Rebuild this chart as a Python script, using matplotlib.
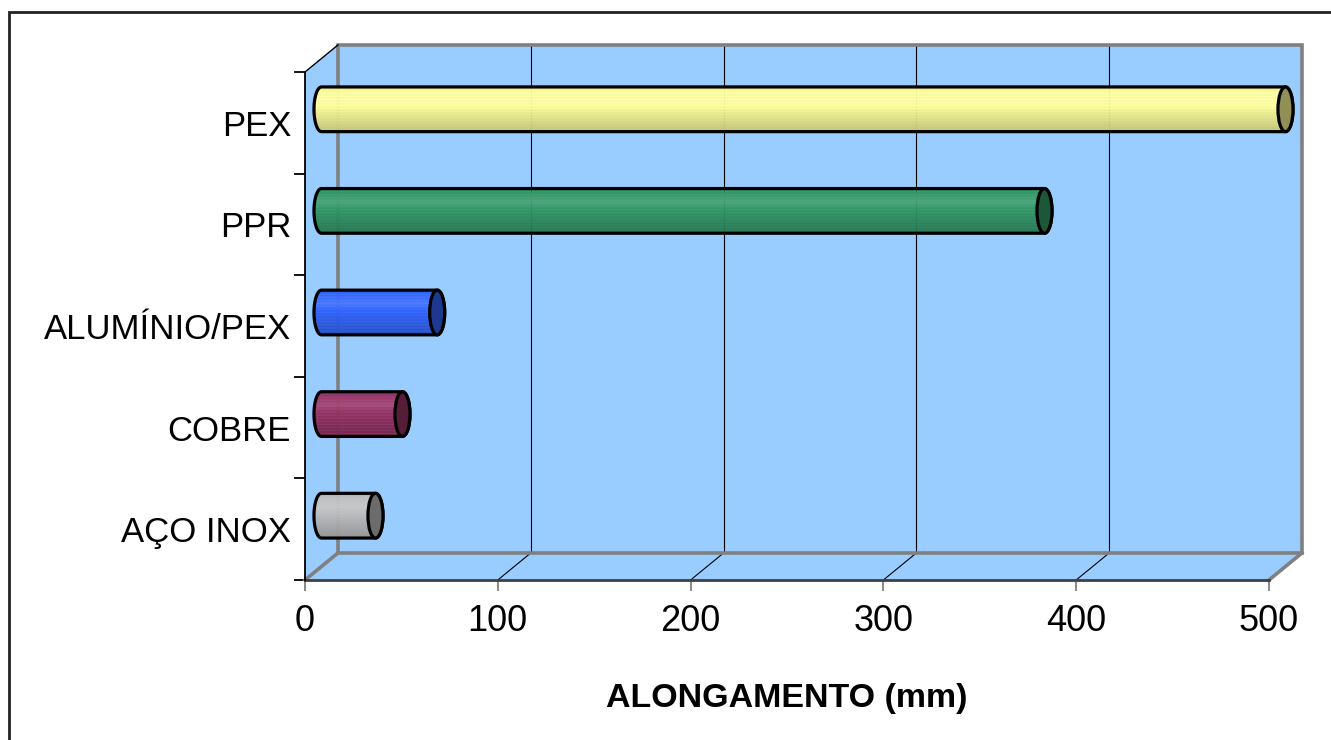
import matplotlib
matplotlib.use("Agg")
import matplotlib.pyplot as plt
import matplotlib.colors as mcolors
import numpy as np
from matplotlib.patches import Rectangle, Polygon, Ellipse

categorias = ["AÇO INOX", "COBRE", "ALUMÍNIO/PEX", "PPR", "PEX"]
alongamento = [28, 42, 60, 375, 500]
cores = ["#C0C0C0", "#993366", "#3366FF", "#339966", "#FFFF99"]
xticks = [0, 100, 200, 300, 400, 500]

plt.rcParams["font.family"] = ["Liberation Sans", "DejaVu Sans"]

AZUL = "#99CCFF"
CINZA = "#808080"
DX, DY = 17.1, 0.266      # profundidade do "3D" em unidades de dados
RX, RY = 3.9, 0.22        # raios da elipse do cilindro


def tom(rgb, k):
    if k > 1:
        c = rgb + (1 - rgb) * (k - 1) * 2
    else:
        c = rgb * k
    return np.clip(c, 0, 1)


def cilindro(ax, y, v, cor, nfaixas=30):
    rgb = np.array(mcolors.to_rgb(cor))
    yc = y + DY / 2
    x0, x1 = DX / 2, v + DX / 2

    # corpo em faixas horizontais (topo claro, base escura)
    ys = np.linspace(yc + RY, yc - RY, nfaixas + 1)
    t = np.linspace(0, 1, nfaixas)
    fator = np.interp(t, [0, 0.08, 0.3, 0.55, 1], [0.9, 1.0, 1.06, 0.95, 0.78])
    for ya, yb, k in zip(ys[:-1], ys[1:], fator):
        yy = np.linspace(ya, yb, 6)
        w = RX * np.sqrt(np.clip(1 - ((yy - yc) / RY) ** 2, 0, 1))
        pts = np.vstack([np.column_stack([x0 - w, yy]),
                         np.column_stack([x1 + w, yy])[::-1]])
        ax.add_patch(Polygon(pts, closed=True, fc=tom(rgb, k), ec=tom(rgb, k),
                             lw=0.3, clip_on=False, zorder=4))

    t1 = np.linspace(np.pi / 2, 3 * np.pi / 2, 40)
    t2 = np.linspace(-np.pi / 2, np.pi / 2, 40)
    esq = np.column_stack([x0 + RX * np.cos(t1), yc + RY * np.sin(t1)])
    dir_ = np.column_stack([x1 + RX * np.cos(t2), yc + RY * np.sin(t2)])
    ax.add_patch(Polygon(np.vstack([esq, dir_]), closed=True, fc="none",
                         ec="black", lw=2.3, clip_on=False, zorder=5))
    ax.add_patch(Ellipse((x1, yc), 2 * RX, 2 * RY, fc=rgb * 0.56, ec="black",
                         lw=2.3, clip_on=False, zorder=6))


fig = plt.figure(figsize=(13.31, 7.40), dpi=100)
ax = fig.add_axes([305 / 1331, 160 / 740, 964 / 1331, 508 / 740])
ax.patch.set_visible(False)

n = len(categorias)
xmax = xticks[-1]

# paredes: fundo, chão e lateral
ax.add_patch(Rectangle((DX, DY), xmax, n, fc=AZUL, ec="none", clip_on=False, zorder=0.5))
ax.add_patch(Polygon([(0, 0), (xmax, 0), (xmax + DX, DY), (DX, DY)], fc=AZUL,
                     ec="none", clip_on=False, zorder=0.5))
ax.add_patch(Polygon([(0, 0), (DX, DY), (DX, n + DY), (0, n)], fc=AZUL,
                     ec="none", clip_on=False, zorder=0.5))

# grade
for v in xticks[1:-1]:
    ax.plot([v + DX, v + DX], [DY, n + DY], color="black", lw=0.8, clip_on=False, zorder=1)
    ax.plot([v, v + DX], [0, DY], color="black", lw=0.8, clip_on=False, zorder=1)

ax.add_patch(Rectangle((DX, DY), xmax, n, fc="none", ec=CINZA, lw=2.6,
                       clip_on=False, zorder=2))
ax.plot([0, DX], [0, DY], color=CINZA, lw=2.6, clip_on=False, zorder=2)
ax.plot([xmax, xmax + DX], [0, DY], color=CINZA, lw=2.6, clip_on=False, zorder=2)
ax.plot([0, DX], [n, n + DY], color="black", lw=1.0, clip_on=False, zorder=2)
ax.plot([0, xmax], [0, 0], color="#404040", lw=2.0, clip_on=False, zorder=2)

for i, (v, c) in enumerate(zip(alongamento, cores)):
    cilindro(ax, i + 0.5, v, c)

ax.set_xlim(0, xmax)
ax.set_ylim(0, n)

for s in ["top", "right", "bottom"]:
    ax.spines[s].set_visible(False)
ax.spines["left"].set_color("black")
ax.spines["left"].set_linewidth(1.3)
ax.spines["left"].set_zorder(3)

ax.set_xticks(xticks)
ax.set_xticklabels([str(v) for v in xticks], fontsize=26)
ax.tick_params(axis="x", direction="out", length=8, width=1.3, color=CINZA, pad=9)
ax.set_yticks(range(n + 1))
ax.set_yticklabels([])
ax.tick_params(axis="y", which="major", direction="out", length=8, width=1.3, color="black")
ax.set_yticks([i + 0.5 for i in range(n)], minor=True)
ax.set_yticklabels(categorias, minor=True, fontsize=25)
ax.tick_params(axis="y", which="minor", length=0, pad=10)

fig.text(787 / 1331, 1 - 699 / 740, "ALONGAMENTO (mm)", fontsize=24.5,
         fontweight="bold", ha="center", va="center")

# moldura do gráfico
fig.patches.append(Rectangle((9 / 1331, -0.05), 1.1, 1 - 12 / 740 + 0.05,
                             transform=fig.transFigure, fc="none", ec="#222222",
                             lw=2.0, zorder=0))

fig.savefig("out.png", dpi=100)
